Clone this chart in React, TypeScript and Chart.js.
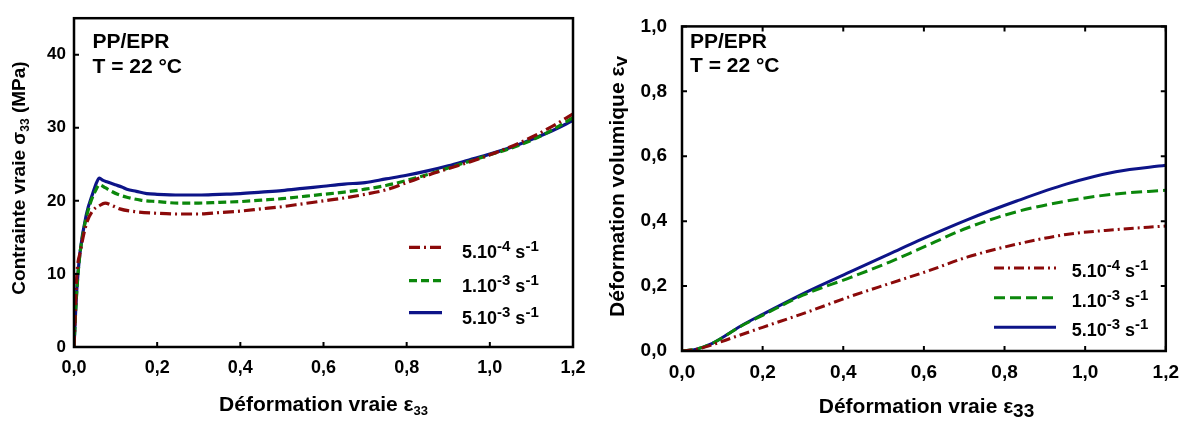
import React, { useEffect, useRef } from 'react';
import { Chart, registerables } from 'chart.js';

Chart.register(...registerables);

const FONT = '"Liberation Sans", Arial, Helvetica, sans-serif';

// ---------- data ----------
const strainTicks = [0, 0.2, 0.4, 0.6, 0.8, 1.0, 1.2];
const stressTicks = [0, 10, 20, 30, 40];
const volTicks = [0, 0.2, 0.4, 0.6, 0.8, 1.0];

const rateBase = ['5.10', '1.10', '5.10'];
const rateExp = ['-4', '-3', '-3'];
const seriesColors = ['#8b0a0a', '#0b870b', '#0d1488'];

// left: true stress vs true strain
const stressRedX = [0, 0.003, 0.007, 0.015, 0.03, 0.046, 0.06, 0.075, 0.09, 0.11, 0.15, 0.2, 0.25, 0.3, 0.35, 0.4, 0.45, 0.5, 0.55, 0.6, 0.65, 0.7, 0.75, 0.8, 0.85, 0.9, 0.95, 1.0, 1.05, 1.1, 1.15, 1.2];
const stressRedY = [0, 4.5, 10, 13, 16.9, 18.7, 19.3, 19.7, 19.4, 18.9, 18.5, 18.3, 18.2, 18.2, 18.4, 18.6, 18.9, 19.2, 19.6, 20.0, 20.4, 20.9, 21.5, 22.5, 23.5, 24.4, 25.3, 26.3, 27.4, 28.7, 30.2, 31.9];

const stressGreenX = [0, 0.005, 0.012, 0.025, 0.04, 0.052, 0.061, 0.075, 0.087, 0.105, 0.127, 0.16, 0.2, 0.25, 0.3, 0.35, 0.4, 0.45, 0.5, 0.55, 0.6, 0.65, 0.7, 0.75, 0.8, 0.85, 0.9, 0.95, 1.0, 1.05, 1.1, 1.15, 1.2];
const stressGreenY = [0, 6, 11.5, 16.5, 19.8, 21.4, 22.2, 21.8, 21.4, 20.9, 20.5, 20.1, 19.9, 19.7, 19.7, 19.8, 19.9, 20.1, 20.3, 20.6, 20.9, 21.2, 21.6, 22.1, 22.8, 23.6, 24.5, 25.4, 26.3, 27.2, 28.3, 29.7, 31.4];

const stressBlueX = [0, 0.0065, 0.0144, 0.03, 0.045, 0.055, 0.061, 0.07, 0.079, 0.099, 0.115, 0.127, 0.15, 0.175, 0.2, 0.255, 0.3, 0.35, 0.4, 0.45, 0.5, 0.55, 0.6, 0.65, 0.7, 0.75, 0.8, 0.85, 0.9, 0.95, 1.0, 1.05, 1.1, 1.15, 1.2];
const stressBlueY = [0, 7.6, 12.9, 18.2, 21.0, 22.6, 23.1, 22.8, 22.6, 22.2, 21.9, 21.6, 21.3, 21.0, 20.9, 20.8, 20.8, 20.9, 21.0, 21.2, 21.4, 21.7, 22.0, 22.3, 22.5, 23.0, 23.5, 24.1, 24.8, 25.6, 26.4, 27.3, 28.4, 29.6, 31.0];

// right: volumetric strain vs true strain
const volRedX = [0, 0.03, 0.065, 0.13, 0.2, 0.311, 0.417, 0.515, 0.609, 0.707, 0.83, 0.953, 1.076, 1.2];
const volRedY = [0, 0.004, 0.015, 0.043, 0.073, 0.12, 0.168, 0.208, 0.246, 0.289, 0.329, 0.359, 0.374, 0.385];

const volGreenX = [0, 0.033, 0.074, 0.147, 0.2, 0.3, 0.417, 0.515, 0.585, 0.707, 0.83, 0.953, 1.076, 1.2];
const volGreenY = [0, 0.005, 0.023, 0.077, 0.11, 0.172, 0.226, 0.274, 0.312, 0.379, 0.429, 0.462, 0.484, 0.495];

const volBlueX = [0, 0.033, 0.074, 0.147, 0.2, 0.311, 0.417, 0.515, 0.585, 0.707, 0.83, 0.953, 1.076, 1.2];
const volBlueY = [0, 0.005, 0.023, 0.078, 0.113, 0.183, 0.244, 0.299, 0.339, 0.404, 0.462, 0.514, 0.552, 0.572];

// ---------- helpers ----------
type Part = { t: string; size: number; dy?: number };

const toPts = (xs: number[], ys: number[]) => xs.map((x, i) => ({ x, y: ys[i] }));
const fmtComma = (v: number) => v.toFixed(1).replace('.', ',');

function richWidth(ctx: CanvasRenderingContext2D, parts: Part[]) {
  let w = 0;
  for (const p of parts) {
    ctx.font = `bold ${p.size}px ${FONT}`;
    w += ctx.measureText(p.t).width;
  }
  return w;
}

function drawRich(ctx: CanvasRenderingContext2D, parts: Part[], x: number, y: number, align: 'left' | 'center') {
  let cx = align === 'center' ? x - richWidth(ctx, parts) / 2 : x;
  ctx.textAlign = 'left';
  ctx.textBaseline = 'alphabetic';
  ctx.fillStyle = '#000';
  for (const p of parts) {
    ctx.font = `bold ${p.size}px ${FONT}`;
    ctx.fillText(p.t, cx, y + (p.dy || 0));
    cx += ctx.measureText(p.t).width;
  }
}

type Deco = {
  frameTicks: { left: boolean; right: boolean; top: boolean; bottom: boolean };
  yTitle: { parts: Part[]; x: number; y: number };
  xTitle: { parts: Part[]; x: number; y: number };
  note: { x: number; y1: number; y2: number; size: number };
  legend: { x1: number; x2: number; rows: number[]; textX: number; dy: number; size: number; sup: number; rise: number };
};

function makeDecoPlugin(d: Deco) {
  return {
    id: 'deco',
    afterDatasetsDraw(chart: any) {
      const { ctx, chartArea: a, scales } = chart;
      ctx.save();
      ctx.strokeStyle = '#000';
      ctx.lineWidth = 2.5;
      ctx.strokeRect(a.left, a.top, a.right - a.left, a.bottom - a.top);
      ctx.lineWidth = 2;
      const L = 5;
      ctx.beginPath();
      for (const t of scales.x.ticks) {
        const px = scales.x.getPixelForValue(t.value);
        if (d.frameTicks.bottom) { ctx.moveTo(px, a.bottom); ctx.lineTo(px, a.bottom - L); }
        if (d.frameTicks.top) { ctx.moveTo(px, a.top); ctx.lineTo(px, a.top + L); }
      }
      for (const t of scales.y.ticks) {
        const py = scales.y.getPixelForValue(t.value);
        if (d.frameTicks.left) { ctx.moveTo(a.left, py); ctx.lineTo(a.left + L, py); }
        if (d.frameTicks.right) { ctx.moveTo(a.right, py); ctx.lineTo(a.right - L, py); }
      }
      ctx.stroke();
      ctx.restore();
    },
    afterDraw(chart: any) {
      const { ctx } = chart;
      ctx.save();
      ctx.save();
      ctx.translate(d.yTitle.x, d.yTitle.y);
      ctx.rotate(-Math.PI / 2);
      drawRich(ctx, d.yTitle.parts, 0, 0, 'center');
      ctx.restore();
      drawRich(ctx, d.xTitle.parts, d.xTitle.x, d.xTitle.y, 'center');
      drawRich(ctx, [{ t: 'PP/EPR', size: d.note.size }], d.note.x, d.note.y1, 'left');
      drawRich(ctx, [{ t: 'T = 22 °C', size: d.note.size }], d.note.x, d.note.y2, 'left');
      const ds = chart.data.datasets;
      d.legend.rows.forEach((ry, i) => {
        const set = ds[i];
        ctx.save();
        ctx.strokeStyle = set.borderColor;
        ctx.lineWidth = set.borderWidth;
        ctx.setLineDash(set.borderDash || []);
        ctx.beginPath();
        ctx.moveTo(d.legend.x1, ry);
        ctx.lineTo(d.legend.x2, ry);
        ctx.stroke();
        ctx.restore();
        const s = d.legend.size;
        drawRich(ctx, [
          { t: rateBase[i], size: s },
          { t: rateExp[i], size: d.legend.sup, dy: -d.legend.rise },
          { t: ' s', size: s },
          { t: '-1', size: d.legend.sup, dy: -d.legend.rise },
        ], d.legend.textX, ry + d.legend.dy, 'left');
      });
      ctx.restore();
    },
  };
}

function ChartBox({ config, width, height, left }: { config: () => any; width: number; height: number; left: number }) {
  const ref = useRef<HTMLCanvasElement>(null);
  useEffect(() => {
    const chart = new Chart(ref.current as HTMLCanvasElement, config());
    return () => chart.destroy();
  }, []);
  return (
    <div style={{ position: 'absolute', left, top: 0, width, height }}>
      <canvas ref={ref} width={width} height={height} style={{ width, height, display: 'block' }} />
    </div>
  );
}

function baseScales(xTicks: number[], yTicks: number[], yMax: number, yFmt: (v: number) => string, xSize: number, ySize: number, yWidth: number, xHeight: number, yPad: number, xPad: number) {
  return {
    x: {
      type: 'linear',
      min: 0,
      max: 1.2,
      afterBuildTicks: (s: any) => { s.ticks = xTicks.map((v) => ({ value: v })); },
      afterFit: (s: any) => { s.height = xHeight; },
      ticks: { callback: (v: number) => fmtComma(v), font: { family: FONT, size: xSize, weight: 'bold' }, color: '#000', padding: xPad, maxRotation: 0, autoSkip: false },
      grid: { display: false, drawTicks: false },
      border: { display: false },
    },
    y: {
      type: 'linear',
      min: 0,
      max: yMax,
      afterBuildTicks: (s: any) => { s.ticks = yTicks.map((v) => ({ value: v })); },
      afterFit: (s: any) => { s.width = yWidth; },
      ticks: { callback: (v: number) => yFmt(v), font: { family: FONT, size: ySize, weight: 'bold' }, color: '#000', padding: yPad, autoSkip: false },
      grid: { display: false, drawTicks: false },
      border: { display: false },
    },
  };
}

function leftConfig() {
  const dashes = [[11, 4, 2, 4], [8, 4], []];
  const xs = [stressRedX, stressGreenX, stressBlueX];
  const ys = [stressRedY, stressGreenY, stressBlueY];
  return {
    type: 'line',
    data: {
      datasets: xs.map((x, i) => ({
        label: `${rateBase[i]}${rateExp[i]} s-1`,
        data: toPts(x, ys[i]),
        borderColor: seriesColors[i],
        borderWidth: 3.2,
        borderDash: dashes[i],
        pointRadius: 0,
        fill: false,
        cubicInterpolationMode: 'monotone',
      })),
    },
    options: {
      responsive: false,
      animation: false,
      layout: { padding: { left: 0, right: 27, top: 10, bottom: 0 } },
      plugins: { legend: { display: false }, tooltip: { enabled: false } },
      scales: baseScales(strainTicks, stressTicks, 45, (v) => String(v), 18, 17, 74, 74, 8, 10),
    },
    plugins: [makeDecoPlugin({
      frameTicks: { left: true, bottom: true, top: false, right: false },
      yTitle: { parts: [{ t: 'Contrainte vraie σ', size: 19 }, { t: '33', size: 12, dy: 4 }, { t: ' (MPa)', size: 19 }], x: 25, y: 178 },
      xTitle: { parts: [{ t: 'Déformation vraie ε', size: 21 }, { t: '33', size: 13, dy: 4 }], x: 323.5, y: 411 },
      note: { x: 92.5, y1: 48.3, y2: 72.7, size: 21 },
      legend: { x1: 409, x2: 442, rows: [247.3, 280.7, 312.7], textX: 462, dy: 11, size: 18, sup: 15, rise: 7 },
    })],
  };
}

function rightConfig() {
  const dashes = [[10, 4, 2, 4], [11, 5], []];
  const xs = [volRedX, volGreenX, volBlueX];
  const ys = [volRedY, volGreenY, volBlueY];
  return {
    type: 'line',
    data: {
      datasets: xs.map((x, i) => ({
        label: `${rateBase[i]}${rateExp[i]} s-1`,
        data: toPts(x, ys[i]),
        borderColor: seriesColors[i],
        borderWidth: 3,
        borderDash: dashes[i],
        pointRadius: 0,
        fill: false,
        cubicInterpolationMode: 'monotone',
      })),
    },
    options: {
      responsive: false,
      animation: false,
      layout: { padding: { left: 0, right: 19, top: 18.5, bottom: 0 } },
      plugins: { legend: { display: false }, tooltip: { enabled: false } },
      scales: baseScales(strainTicks, volTicks, 1.0, (v) => fmtComma(v), 19, 19, 82, 70, 15, 10),
    },
    plugins: [makeDecoPlugin({
      frameTicks: { left: true, bottom: true, top: true, right: true },
      yTitle: { parts: [{ t: 'Déformation volumique ε', size: 21 }, { t: 'v', size: 19, dy: 3 }], x: 24, y: 186.5 },
      xTitle: { parts: [{ t: 'Déformation vraie ε', size: 21 }, { t: '33', size: 19, dy: 4 }], x: 326.5, y: 413 },
      note: { x: 90, y1: 48, y2: 71.7, size: 21 },
      legend: { x1: 394, x2: 456, rows: [268, 297.7, 327.3], textX: 471.7, dy: 9, size: 18, sup: 15, rise: 7 },
    })],
  };
}

export default function App() {
  return (
    <div style={{ position: 'absolute', left: 0, top: 0, width: 1189, height: 421, background: '#fff' }}>
      <ChartBox config={leftConfig} width={600} height={421} left={0} />
      <ChartBox config={rightConfig} width={589} height={421} left={600} />
    </div>
  );
}
